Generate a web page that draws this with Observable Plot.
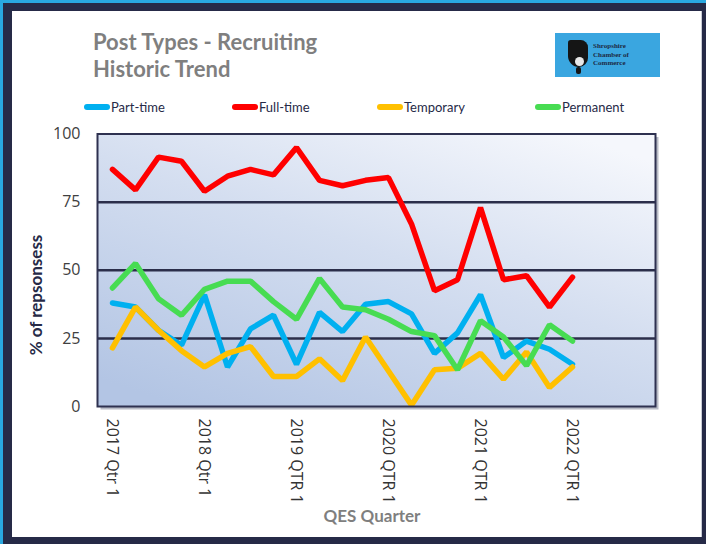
<!DOCTYPE html>
<html>
<head>
<meta charset="utf-8">
<script src="https://cdn.jsdelivr.net/npm/d3@7"></script>
<script src="https://cdn.jsdelivr.net/npm/@observablehq/plot@0.6"></script>
<style>
  html, body { margin: 0; padding: 0; }
  body { width: 706px; height: 544px; position: relative; overflow: hidden; background: #262a47; }
  .abs { position: absolute; }
  #panel { left: 12px; top: 11px; width: 690px; height: 526px; background: #fff; border-right: 1px solid #c9ccd6; box-sizing: border-box; }
  #title { left: 93px; top: 28px; font: bold 22px/27px Lato, sans-serif; color: #7f7f7f; }
  #logo { left: 555px; top: 33px; width: 105px; height: 44px; background: #3aa6e0; overflow: hidden; }
  #logo .blob { position: absolute; left: 13px; top: 7px; width: 20px; height: 27px; background: #151515; border-radius: 3px 8px 10px 12px; }
  #logo .dot { position: absolute; left: 20px; top: 24px; width: 9px; height: 9px; background: #e8e8e8; border-radius: 50%; }
  #logo .stem { position: absolute; left: 21px; top: 34px; width: 5px; height: 7px; background: #151515; border-radius: 2px; }
  #logo .txt { position: absolute; left: 38px; top: 9px; font: bold 7px/8.5px "Liberation Serif", serif; color: #1d2a44; }
  .leg { top: 99px; font: 13px/16px Lato, sans-serif; color: #262a47; display: flex; align-items: center; white-space: nowrap; }
  .leg span.sw { display: inline-block; width: 26px; height: 6px; border-radius: 3px; margin-right: 1px; }
  #ylab { left: 35px; top: 295px; transform: translate(-50%, -50%) rotate(-90deg); font: bold 17px Lato, sans-serif; color: #262a47; white-space: nowrap; }
  #xlab { left: 372px; top: 515px; transform: translate(-50%, -50%); font: bold 17px Lato, sans-serif; color: #7f7f7f; white-space: nowrap; }
  #chart { left: 0; top: 0; }
</style>
</head>
<body>
<div class="abs" style="left:0;top:0;width:706px;height:3px;background:#29a8e0"></div>
<div class="abs" style="left:0;top:0;width:3px;height:544px;background:#29a8e0"></div>
<div id="panel" class="abs"></div>
<div id="title" class="abs">Post Types - Recruiting<br>Historic Trend</div>
<div id="logo" class="abs"><div class="blob"></div><div class="dot"></div><div class="stem"></div><div class="txt">Shropshire<br>Chamber of<br>Commerce</div></div>
<div id="legend"></div>
<div id="chart" class="abs"></div>
<div id="ylab" class="abs">% of repsonsess</div>
<div id="xlab" class="abs">QES Quarter</div>
<script>
// Categories: 24 quarters on the axis (data runs 2017 Q1 to 2022 Q1)
const quarters = [
  "2017 Qtr 1","2017 Qtr 2","2017 Qtr 3","2017 Qtr 4",
  "2018 Qtr 1","2018 Qtr 2","2018 Qtr 3","2018 Qtr 4",
  "2019 QTR 1","2019 QTR 2","2019 QTR 3","2019 QTR 4",
  "2020 QTR 1","2020 QTR 2","2020 QTR 3","2020 QTR 4",
  "2021 QTR 1","2021 QTR 2","2021 QTR 3","2021 QTR 4",
  "2022 QTR 1","2022 QTR 2","2022 QTR 3","2022 QTR 4"
];
const tickLabels = ["2017 Qtr 1","2018 Qtr 1","2019 QTR 1","2020 QTR 1","2021 QTR 1","2022 QTR 1"];
const yTicks = [0, 25, 50, 75, 100];

const seriesNames = ["Part-time", "Full-time", "Temporary", "Permanent"];
const seriesColors = ["#00b0f0", "#ff0000", "#ffc000", "#47dc52"];

const partTime  = [38, 36.5, 28, 22.5, 41, 14.5, 28.5, 33.5, 15.5, 34.5, 27.5, 37.5, 38.5, 34, 19.5, 27, 41, 18, 24, 21, 15.5];
const fullTime  = [87, 79.5, 91.5, 90, 79, 84.5, 87, 85, 95, 83, 81, 83, 84, 67, 42.5, 46.5, 73, 46.5, 48, 36.5, 47.5];
const temporary = [21.5, 36.5, 28, 20.5, 14.5, 19.5, 22, 11, 11, 17.5, 9.5, 25.5, 13, 0.5, 13.5, 14, 19.5, 10, 20, 7, 14.5];
const permanent = [43.5, 52.5, 39.5, 33.5, 43, 46, 46, 38.5, 32, 47, 36.5, 35.5, 32, 27.5, 26, 13.5, 31.5, 25.5, 15, 30, 24];

const seriesValues = [partTime, fullTime, temporary, permanent];
const data = seriesNames.flatMap((name, k) =>
  seriesValues[k].map((v, i) => ({ quarter: quarters[i], value: v, series: name }))
);

// Legend
const legendX = [84, 232, 377, 535];
const legend = document.getElementById("legend");
seriesNames.forEach((name, k) => {
  const d = document.createElement("div");
  d.className = "abs leg";
  d.style.left = legendX[k] + "px";
  d.innerHTML = `<span class="sw" style="background:${seriesColors[k]}"></span>${name}`;
  legend.appendChild(d);
});

const chart = Plot.plot({
  width: 706,
  height: 544,
  marginLeft: 97,
  marginRight: 51,
  marginTop: 133.5,
  marginBottom: 138,
  style: { background: "transparent", fontFamily: "'Open Sans', sans-serif", fontSize: "16px", color: "#404040", overflow: "visible" },
  x: { type: "point", domain: quarters, padding: 0.5, axis: null },
  y: { domain: [0, 100], ticks: yTicks, tickSize: 0, tickPadding: 17, label: null },
  color: { domain: seriesNames, range: seriesColors },
  marks: [
    Plot.frame({ fill: "#b9bcc6", stroke: null, dx: 3, dy: 3 }),
    Plot.frame({ fill: "url(#bgGrad)", stroke: null }),
    Plot.ruleY([25, 50, 75], { stroke: "#2b2e4a", strokeWidth: 2.5 }),
    Plot.line(data, { x: "quarter", y: "value", z: "series", stroke: "series", strokeWidth: 5.5, strokeLinecap: "round", strokeLinejoin: "miter" }),
    Plot.frame({ stroke: "#2e3150", strokeWidth: 2 }),
    Plot.text(tickLabels, { x: d => d, frameAnchor: "bottom", dy: 12, rotate: 90, textAnchor: "start", lineAnchor: "middle", fill: "#333", fontSize: 16 })
  ]
});

// gradient background for plot area
const svg = d3.select(chart.tagName.toLowerCase() === "svg" ? chart : chart.querySelector("svg"));
const defs = svg.insert("defs", ":first-child");
const g = defs.append("linearGradient").attr("id", "bgGrad")
  .attr("x1", "0.15").attr("y1", "1").attr("x2", "0.85").attr("y2", "0");
g.append("stop").attr("offset", "0%").attr("stop-color", "#b3c5e4");
g.append("stop").attr("offset", "55%").attr("stop-color", "#d4def0");
g.append("stop").attr("offset", "100%").attr("stop-color", "#f5f7fc");

document.getElementById("chart").appendChild(chart);
</script>
</body>
</html>
